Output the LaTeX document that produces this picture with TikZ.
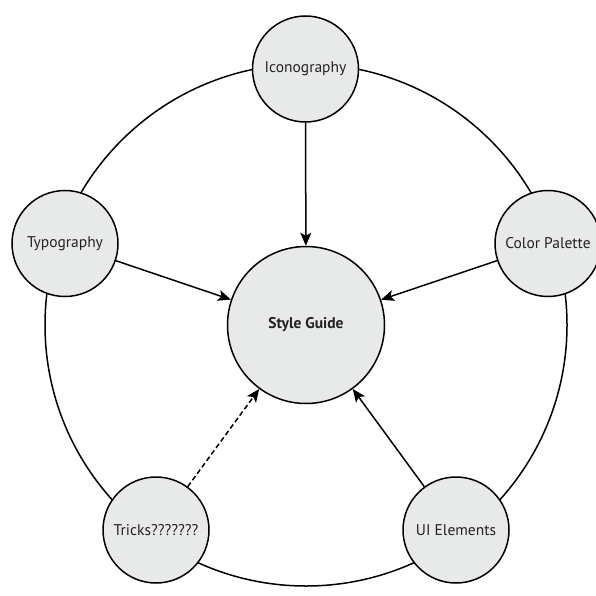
\documentclass[tikz,border=0pt]{standalone}
\usepackage{fontspec}
\setmainfont{PT Sans}
\usetikzlibrary{arrows.meta}
\definecolor{nodegray}{HTML}{E8E9E9}
\definecolor{labelgray}{HTML}{222222}
\begin{document}
\begin{tikzpicture}[x=1pt,y=-1pt,
  topic/.style={circle,draw=black,line width=1.5pt,fill=nodegray,
    minimum size=106pt,inner sep=0pt,text=labelgray,
    font=\fontsize{15.5}{18}\selectfont},
  hub/.style={topic,minimum size=157pt,font=\bfseries\fontsize{15.5}{18}\selectfont},
  link/.style={line width=1.5pt,-{Stealth[length=13pt,width=11pt,inset=3pt]}},
  ring/.style={line width=1.5pt}]
\useasboundingbox (0,0) rectangle (595,596);
\fill[white] (0,0) rectangle (595,596);

% outer ring joining the topics
\coordinate (rc) at (306,325);
\draw[ring] (rc) circle[radius=261];

% topics
\node[hub]   (guide) at (306,325)   {Style Guide};
\node[topic] (icon)  at (305.5,69)  {Iconography};
\node[topic] (typo)  at (65,243.5)  {Typography};
\node[topic] (color) at (548,243.5) {Color Palette};
\node[topic] (trick) at (156,530)   {Tricks???????};
\node[topic] (ui)    at (456,530)   {UI Elements};

% links into the guide
\draw[link] (icon)  -- (guide);
\draw[link] (typo)  -- (guide);
\draw[link] (color) -- (guide);
\draw[link] (ui)    -- (guide);
\draw[link,dash pattern=on 5pt off 3pt] (trick) -- (guide);
\end{tikzpicture}
\end{document}
